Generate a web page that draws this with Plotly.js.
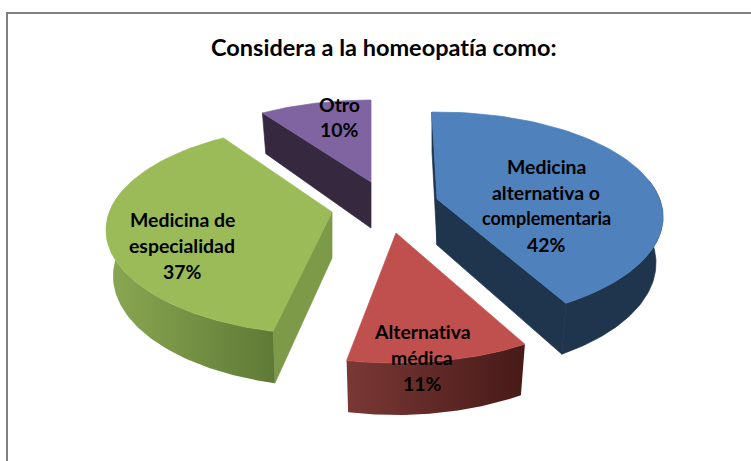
<!DOCTYPE html>
<html>
<head>
<meta charset="utf-8">
<script src="https://cdn.plot.ly/plotly-3.0.1.min.js"></script>
<style>html,body{margin:0;padding:0;background:#fff}#c{width:751px;height:461px}text{font-variant-ligatures:none !important;font-feature-settings:"liga" 0,"clig" 0 !important}</style>
</head>
<body>
<div id="c"></div>
<script>
var categories = ["Medicina alternativa o complementaria", "Alternativa médica", "Medicina de especialidad", "Otro"];
var percents = [42, 11, 37, 10];
var titleText = "Considera a la homeopatía como:";
var labelLines = [
  ["Medicina", "alternativa o", "complementaria", "42%"],
  ["Alternativa", "médica", "11%"],
  ["Medicina de", "especialidad", "37%"],
  ["Otro", "10%"]
];
var topColors = ["#4f81bd", "#c0504d", "#9bbb59", "#8064a2"];
var faceColors = ["#1f344d", "#5a2422", "#7d9a48", "#35283f"];
var wallLeft = ["#1f344d", "#7a3835", "#8aa852", "#35283f"];
var wallRight = ["#1f344d", "#471a18", "#5f7a36", "#35283f"];

// Exploded positions of each slice centre, in chart pixels
var cxs = [437, 396, 332, 371];
var cys = [217, 258, 230, 205];
var apexLift = [18, 25, 18, 23];
var labelX = [546, 422, 182, 339];
var labelY = [166, 331, 219, 104];
var labelStep = [26, 26, 26, 25];
var showStartFace = [true, false, true, true];
var showEndFace = [true, false, false, false];
var RX = 226, RY = 105, BRX = 219, BRY = 111, DEPTH = 46;

function warp(deg) { return deg - 12.4 * Math.sin(deg * Math.PI / 180); }
function topPt(i, t) { var r = t * Math.PI / 180; return [cxs[i] + RX * Math.sin(r), cys[i] - RY * Math.cos(r)]; }
function botPt(i, t) { var r = t * Math.PI / 180; return [cxs[i] + BRX * Math.sin(r), cys[i] + DEPTH - BRY * Math.cos(r)]; }
function arc(fn, i, a, b, n) { var o = []; for (var k = 0; k <= n; k++) o.push(fn(i, a + (b - a) * k / n)); return o; }
function poly(pts, color, gradient) {
  var c = pts.concat([pts[0]]);
  var t = { type: "scatter", mode: "lines", x: c.map(function (p) { return p[0]; }), y: c.map(function (p) { return p[1]; }),
    fill: "toself", fillcolor: color, line: { color: color, width: gradient ? 0 : 0.7 }, hoverinfo: "skip", showlegend: false };
  if (gradient) t.fillgradient = gradient;
  return t;
}

var total = percents.reduce(function (a, b) { return a + b; }, 0);
var starts = [], ends = [], run = 0;
percents.forEach(function (v) { starts.push(warp(run / total * 360)); run += v; ends.push(warp(run / total * 360)); });
starts[0] -= 1.3;
starts[2] += 2;
ends[1] -= 0.5;

var traces = [];
[3, 0, 2, 1].forEach(function (i) {
  var a = starts[i], b = ends[i];
  var apexT = [cxs[i], cys[i] - apexLift[i]];
  var apexB = [cxs[i], cys[i] - apexLift[i] + DEPTH];
  if (showStartFace[i]) traces.push(poly([topPt(i, a), apexT, apexB, botPt(i, a)], faceColors[i]));
  if (showEndFace[i]) traces.push(poly([topPt(i, b), apexT, apexB, botPt(i, b)], faceColors[i]));
  var wa = Math.max(a, 70), wb = Math.min(b, 290);
  if (wb > wa) {
    var wall = arc(topPt, i, wa, wb, 80).concat(arc(botPt, i, wb, wa, 80));
    var grad = wallLeft[i] === wallRight[i] ? null : { type: "horizontal", colorscale: [[0, wallLeft[i]], [1, wallRight[i]]] };
    traces.push(poly(wall, wallLeft[i], grad));
  }
  traces.push(poly(arc(topPt, i, a, b, 80).concat([apexT]), topColors[i]));
});

var annotations = [];
labelLines.forEach(function (lines, i) {
  lines.forEach(function (s, j) {
    annotations.push({ x: labelX[i], y: labelY[i] + j * labelStep[i], xref: "x", yref: "y", text: "<b>" + s + "</b>",
      showarrow: false, xanchor: "center", yanchor: "middle",
      font: { family: "Lato, sans-serif", size: s === "complementaria" ? 18 : 19.4, color: "#000" } });
  });
});

var layout = {
  width: 751, height: 461, margin: { l: 0, r: 0, t: 0, b: 0 }, paper_bgcolor: "#fff", plot_bgcolor: "#fff", showlegend: false,
  title: { text: "<b>" + titleText + "</b>", x: 0.511, xanchor: "center", y: 0.896, yanchor: "middle", font: { family: "Lato, sans-serif", size: 23.5, color: "#000" } },
  xaxis: { range: [0, 751], visible: false, fixedrange: true },
  yaxis: { range: [461, 0], visible: false, fixedrange: true },
  shapes: [{ type: "rect", xref: "x", yref: "y", x0: 7, y0: 13, x1: 770, y1: 480, line: { color: "#808080", width: 2 }, fillcolor: "rgba(0,0,0,0)", layer: "below" }],
  annotations: annotations
};
Plotly.newPlot("c", traces, layout, { displayModeBar: false, staticPlot: true });
</script>
</body>
</html>
